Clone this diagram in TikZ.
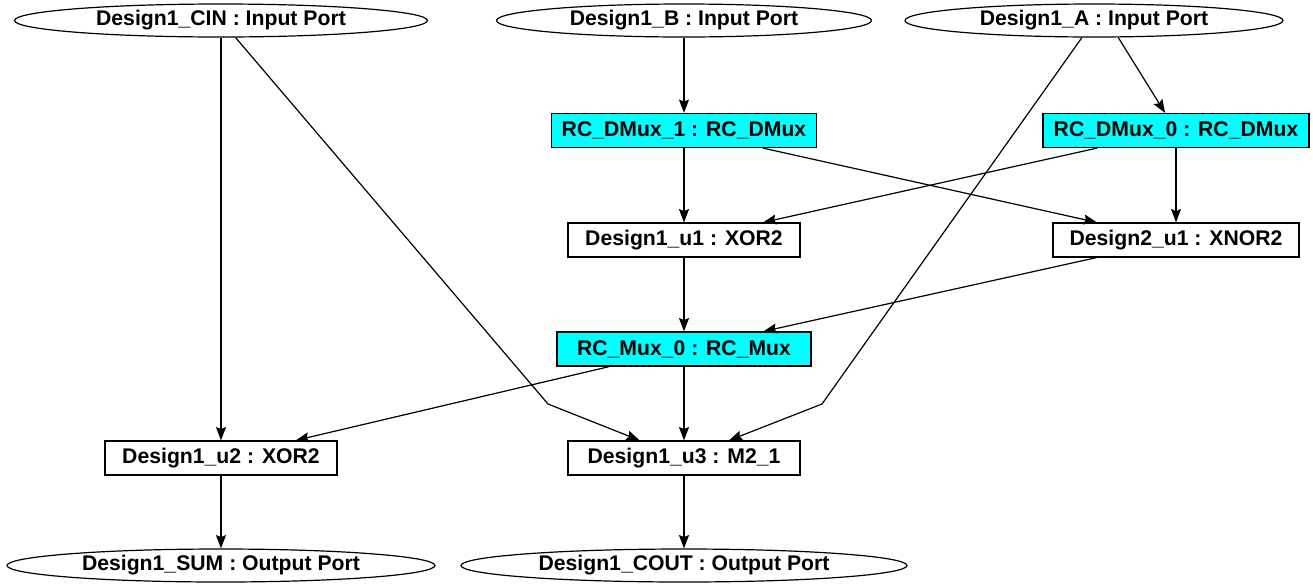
\documentclass[tikz,border=0pt]{standalone}
\usepackage{fontspec}
\setmainfont{Liberation Sans}
\usepackage{xcolor}
\usepackage{tikz}
\usetikzlibrary{shapes.geometric, arrows.meta}
\definecolor{blockC}{HTML}{00FFFF}

\begin{document}
\begin{tikzpicture}[x=0.75pt, y=-0.75pt,
   font=\fontsize{15.9}{18}\selectfont\bfseries,
   port/.style={ellipse, draw, line width=0.9pt, inner sep=0pt, minimum height=24.75pt},
   block/.style={rectangle, draw, line width=0.9pt, inner sep=0pt, minimum height=25.5pt},
   rcblock/.style={block, fill=blockC},
   wire/.style={line width=0.9pt, -{Stealth[length=10pt, width=7.5pt, inset=1.5pt]}}]
  \useasboundingbox (0,0) rectangle (1313,583);
  % input ports
  \node[port, minimum width=309.75pt] (cin) at (221,20.5) {Design1\_CIN : Input Port};
  \node[port, minimum width=281.25pt] (b) at (684,20.5) {Design1\_B : Input Port};
  \node[port, minimum width=283.5pt] (a) at (1094,20.5) {Design1\_A : Input Port};
  % demultiplexers
  \node[rcblock, minimum width=198.75pt] (dmux1) at (684,130.5) {RC\_DMux\_1 : RC\_DMux};
  \node[rcblock, minimum width=199.5pt] (dmux0) at (1176,130.5) {RC\_DMux\_0 : RC\_DMux};
  % gates
  \node[block, minimum width=174pt] (u1) at (684,240) {Design1\_u1 : XOR2};
  \node[block, minimum width=184.5pt] (xnor) at (1176,240) {Design2\_u1 : XNOR2};
  \node[rcblock, minimum width=190.5pt] (mux0) at (684,349) {RC\_Mux\_0 : RC\_Mux};
  \node[block, minimum width=174pt] (u2) at (221,458) {Design1\_u2 : XOR2};
  \node[block, minimum width=174pt] (u3) at (684,458) {Design1\_u3 : M2\_1};
  % output ports
  \node[port, minimum width=321pt] (sum) at (221,565.5) {Design1\_SUM : Output Port};
  \node[port, minimum width=334.5pt] (cout) at (684,565.5) {Design1\_COUT : Output Port};
  % bends
  \coordinate (kc) at (548,404);
  \coordinate (ka) at (822,404);
  % edges
  \foreach \s/\t in {cin/u2, b/dmux1, dmux1/u1, dmux1/xnor, dmux0/u1, dmux0/xnor,
                     u1/mux0, xnor/mux0, mux0/u2, mux0/u3, u2/sum, u3/cout}
    \draw[wire] (\s) -- (\t);
  \draw[wire] (a.-35) -- (dmux0);
  \draw[wire] (cin) -- (kc) -- (u3);
  \draw[wire] (a) -- (ka) -- (u3);
\end{tikzpicture}
\end{document}
